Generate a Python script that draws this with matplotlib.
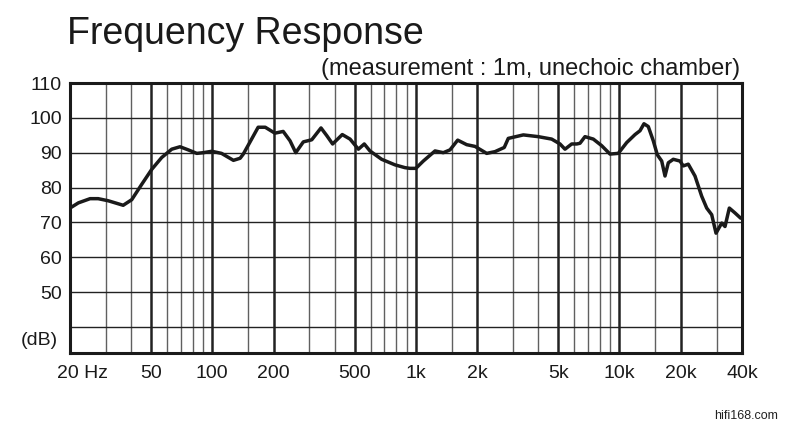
import numpy as np
import matplotlib
matplotlib.use('Agg')
import matplotlib.pyplot as plt

plt.rcParams['font.family'] = ['Liberation Sans', 'DejaVu Sans']

# frequency response (Hz, dB)
freq = [20, 22.0, 25.1, 27.5, 30.8, 36.5, 40.2, 45.0, 50.4, 56.4, 63.2, 69.4,
        76.2, 83.9, 90.3, 99.4, 111, 127, 137, 142, 153, 168, 182, 203, 223,
        241, 257, 280, 308, 342, 365, 390, 435, 475, 522, 558, 595, 679, 790,
        884, 936, 1000, 1088, 1242, 1364, 1471, 1605, 1777, 1952, 2228, 2448,
        2718, 2844, 3372, 3994, 4646, 5106, 5402, 5828, 6166, 6400, 6772, 7442,
        8182, 8990, 9872, 10856, 11928, 12620, 13198, 13860, 14666, 15348,
        16130, 16744, 17380, 18388, 19836, 20588, 21786, 23504, 25358, 26834,
        28392, 29812, 31800, 33010, 34656, 36958, 39400]
spl = [74.1, 75.6, 76.8, 76.8, 76.2, 74.9, 76.5, 80.9, 85.2, 88.6, 91.0, 91.7,
       90.8, 89.8, 90.0, 90.4, 89.8, 87.8, 88.4, 89.6, 93.0, 97.3, 97.3, 95.6,
       96.1, 93.4, 90.0, 93.1, 93.7, 97.1, 94.9, 92.5, 95.2, 93.9, 91.0, 92.5,
       90.5, 88.1, 86.5, 85.7, 85.5, 85.5, 87.6, 90.5, 90.0, 90.8, 93.6, 92.3,
       91.8, 89.8, 90.3, 91.5, 94.1, 95.1, 94.6, 93.9, 92.5, 91.0, 92.5, 92.5,
       92.7, 94.6, 93.9, 92.0, 89.6, 89.8, 92.9, 95.2, 96.3, 98.3, 97.5, 93.4,
       89.4, 87.6, 83.3, 87.1, 88.1, 87.6, 86.2, 86.7, 83.3, 77.5, 74.1, 72.2,
       66.9, 69.8, 68.8, 74.1, 72.7, 71.2]

major_f = [50, 100, 200, 500, 1000, 2000, 5000, 10000, 20000]
minor_f = [30, 40, 60, 70, 80, 90, 150, 300, 400, 600, 700, 800, 900, 1500,
           3000, 4000, 6000, 7000, 8000, 9000, 15000, 30000]
x_ticks = [20, 50, 100, 200, 500, 1000, 2000, 5000, 10000, 20000, 40000]
x_labels = ['20 Hz', '50', '100', '200', '500', '1k', '2k', '5k', '10k', '20k', '40k']
y_grid = [40, 50, 60, 70, 80, 90, 100]
y_ticks = [50, 60, 70, 80, 90, 100, 110]

fig = plt.figure(figsize=(7.89, 4.29), dpi=100)
ax = fig.add_axes([70 / 789, 1 - 353 / 429, 672 / 789, 270 / 429])
ax.set_xscale('log')
ax.set_xlim(20, 40000)
ax.set_ylim(32.5, 110)

for f in minor_f:
    ax.axvline(f, color='#606060', lw=1.0, zorder=1)
for f in major_f:
    ax.axvline(f, color='#222222', lw=1.8, zorder=1)
for y in y_grid:
    ax.axhline(y, color='#222222', lw=1.0, zorder=1)

ax.plot(freq, spl, color='#1a1a1a', lw=2.5, solid_joinstyle='round',
        solid_capstyle='round', zorder=3)

for s in ax.spines.values():
    s.set_linewidth(2.2)
    s.set_color('#1a1a1a')

ax.set_xticks(x_ticks)
ax.set_xticklabels(x_labels)
ax.xaxis.set_minor_locator(matplotlib.ticker.NullLocator())
ax.set_yticks(y_ticks)
ax.tick_params(length=0, labelsize=14, colors='#1a1a1a', pad=6)
ax.tick_params(axis='x', pad=9)
lbl = ax.get_xticklabels()[0]
lbl.set_horizontalalignment('left')
lbl.set_transform(lbl.get_transform() +
                  matplotlib.transforms.ScaledTranslation(-13 / 100, 0, fig.dpi_scale_trans))
ax.text(-0.018, 36, '(dB)', transform=ax.get_yaxis_transform(), ha='right',
        va='center', fontsize=14, color='#1a1a1a')

fig.text(67 / 789, 1 - 44 / 429, 'Frequency Response', fontsize=27,
         color='#1a1a1a', va='baseline', ha='left')
fig.text(740 / 789, 1 - 75 / 429, '(measurement : 1m, unechoic chamber)',
         fontsize=17, color='#1a1a1a', va='baseline', ha='right')
fig.text(778 / 789, 1 - 419 / 429, 'hifi168.com', fontsize=9,
         color='#222222', va='baseline', ha='right')

fig.savefig('out.png', dpi=100)
